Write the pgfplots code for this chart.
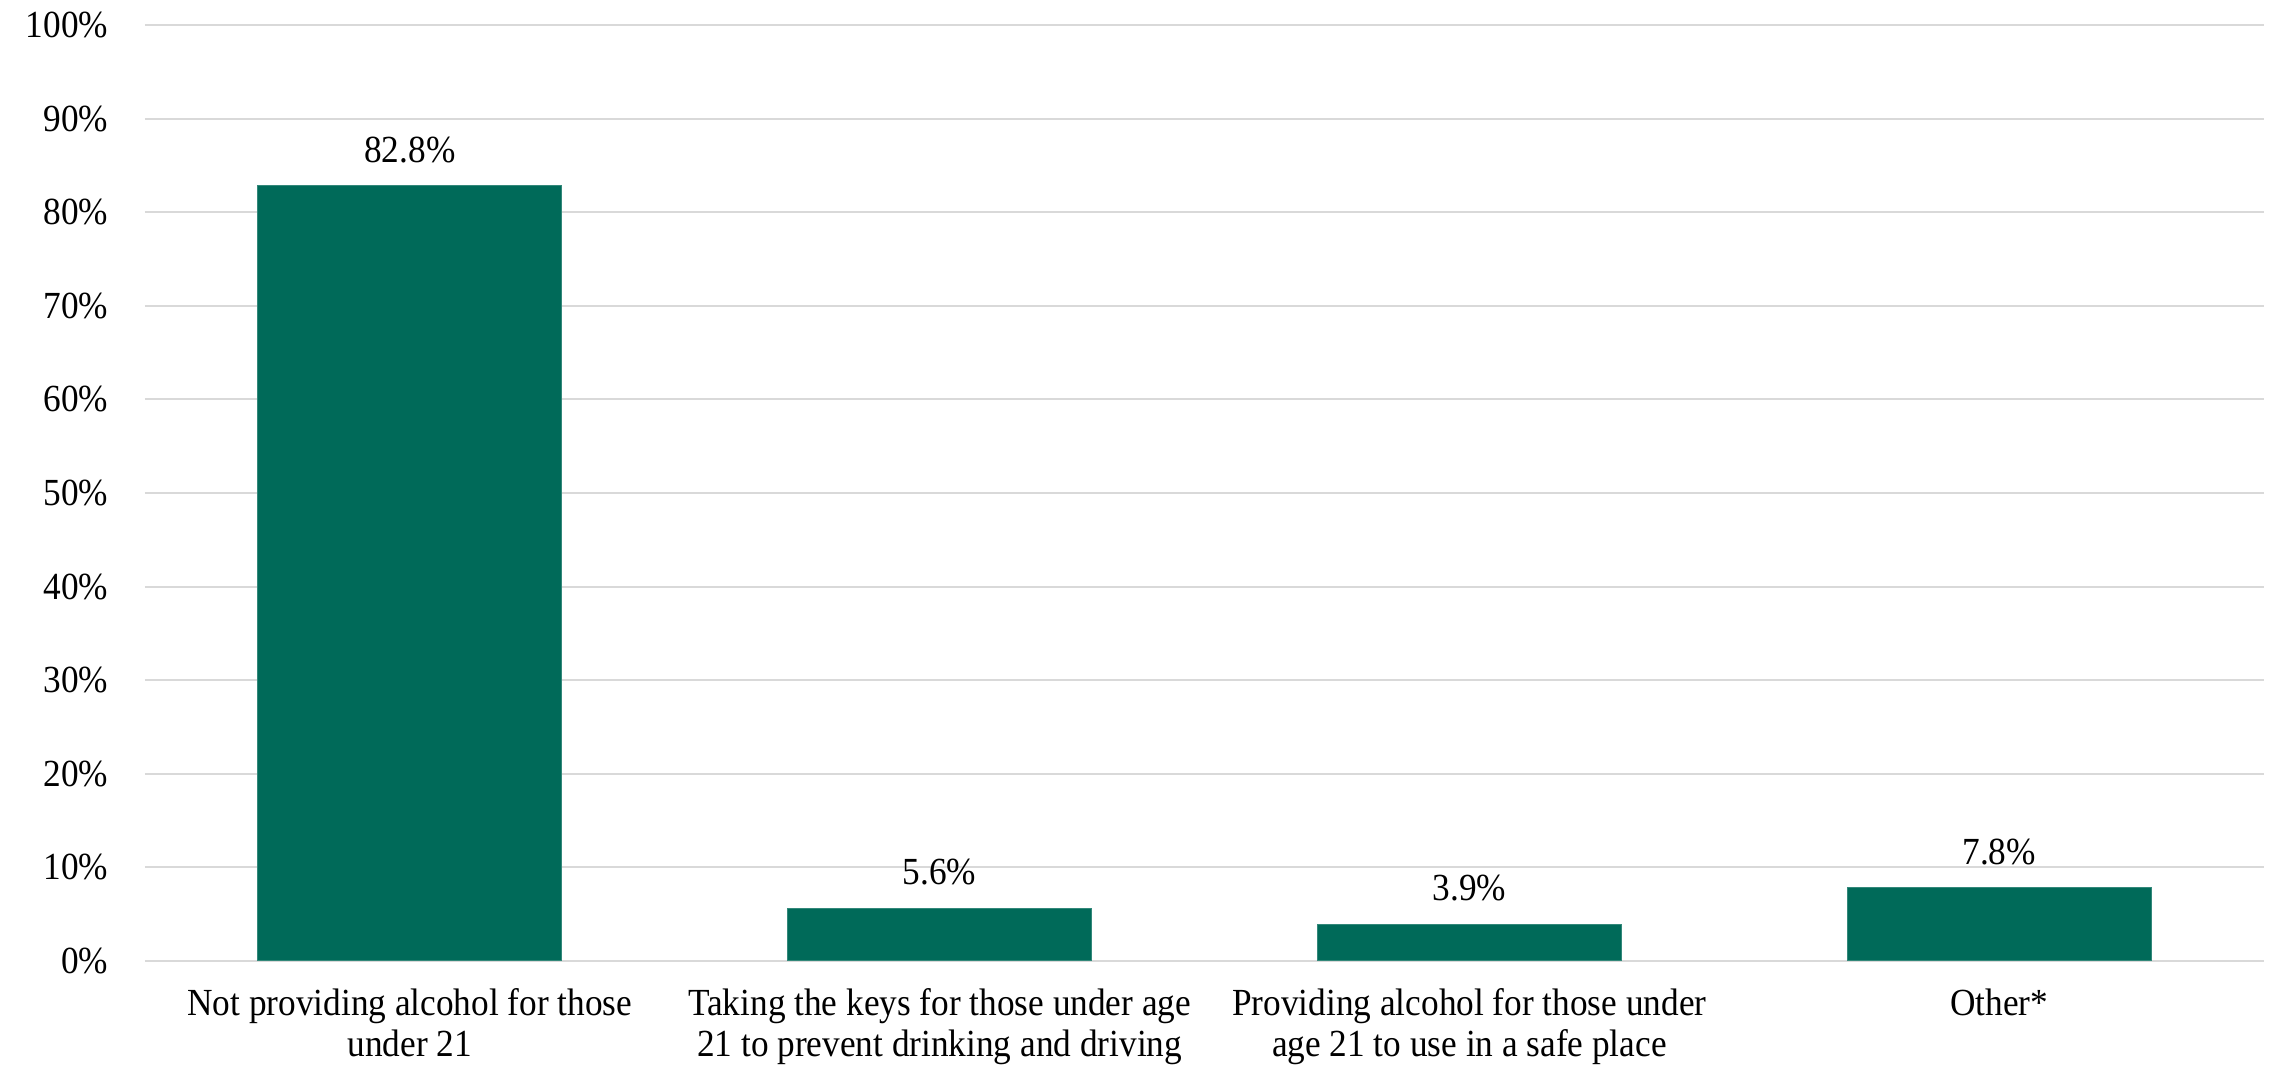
\documentclass[border=0pt]{standalone}
\usepackage{pgfplots}
\pgfplotsset{compat=1.18}
\usepackage{fontspec}
\setmainfont{Liberation Serif}[FakeStretch=0.92]
\definecolor{barg}{HTML}{006A59}
\definecolor{gridg}{HTML}{D9D9D9}
\begin{document}
\begin{tikzpicture}
\begin{axis}[
  name=ax,
  scale only axis,
  width=635.7pt, height=280.8pt,
  xmin=-0.5, xmax=3.5,
  ymin=0, ymax=100,
  ytick={0,10,...,100},
  yticklabel={\pgfmathprintnumber{\tick}\%},
  xtick={0,1,2,3},
  xticklabels={{Not providing alcohol for those\\under 21},
               {Taking the keys for those under age\\21 to prevent drinking and driving},
               {Providing alcohol for those under\\age 21 to use in a safe place},
               {Other*}},
  /pgf/number format/assume math mode=true,
  axis line style={draw=none},
  major tick style={draw=none},
  ymajorgrids,
  grid style={gridg, line width=0.6pt},
  tick label style={font=\fontsize{11.5}{12.4}\selectfont},
  xticklabel style={align=center, yshift=-0.5pt},
  yticklabel style={xshift=-7.5pt},
  ybar,
  bar width=91.2pt,
  nodes near coords={\pgfmathprintnumber[fixed,precision=1,fixed zerofill]{\pgfplotspointmeta}\%},
  every node near coord/.append style={font=\fontsize{11.5}{12.4}\selectfont, yshift=3.5pt},
  clip=false,
]
\addplot[fill=barg, draw=barg!80!white, line width=0.3pt] coordinates {(0,82.8) (1,5.6) (2,3.9) (3,7.8)};
\end{axis}
\pgfresetboundingbox
\path[use as bounding box] ([xshift=-43.5pt,yshift=-31.8pt]ax.south west) rectangle ([xshift=3.9pt,yshift=7.5pt]ax.north east);
\end{tikzpicture}
\end{document}
